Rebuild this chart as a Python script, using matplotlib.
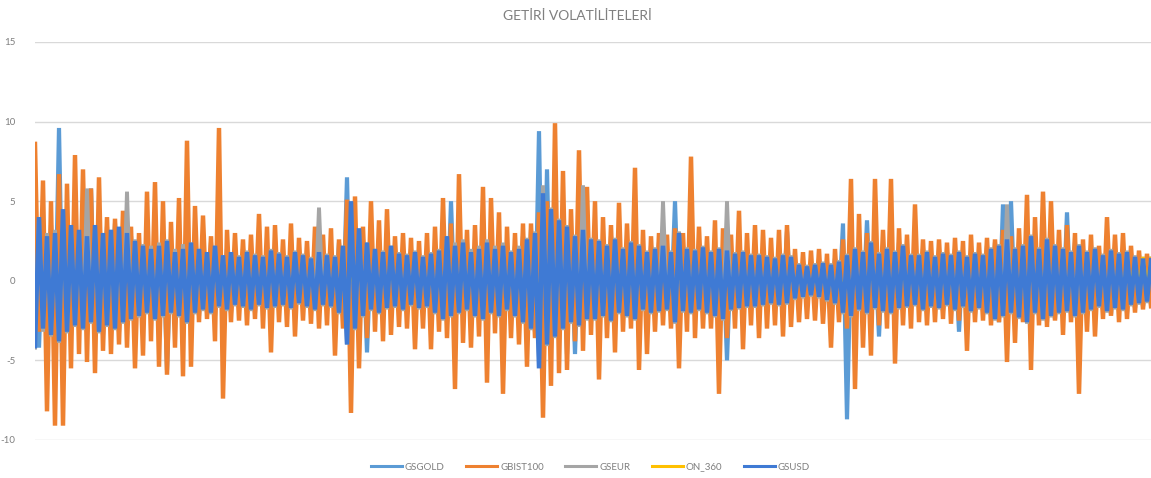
import numpy as np
import matplotlib
matplotlib.use("Agg")
import matplotlib.pyplot as plt

# returns, one (high, low) pair per ~8px column
gsgold_hi = [4.2, 3.0, 3.5, 9.6, 3.8, 3.4, 3.0, 5.8, 3.2, 3.4,
             3.6, 3.2, 2.8, 2.4, 2.2, 2.6, 2.8, 2.0, 2.4, 2.6,
             2.2, 2.0, 2.4, 1.8, 2.0, 1.7, 2.0, 1.8, 1.7, 2.1,
             1.9, 1.7, 2.0, 1.8, 1.6, 2.0, 1.8, 1.7, 2.4, 6.5,
             3.6, 2.6, 2.2, 2.0, 2.4, 1.9, 1.8, 2.0, 1.7, 1.9,
             2.1, 3.0, 5.0, 2.6, 2.0, 2.2, 2.6, 2.2, 2.4, 2.0,
             2.2, 2.8, 3.2, 9.4, 7.0, 4.0, 3.6, 3.0, 3.4, 2.8,
             2.7, 2.4, 2.8, 2.2, 2.6, 2.4, 2.0, 2.2, 2.4, 2.0,
             5.0, 2.2, 2.1, 2.3, 2.0, 2.2, 2.1, 1.9, 2.0, 1.8,
             1.8, 1.7, 1.6, 1.8, 3.1, 1.2, 1.1, 1.2, 1.3, 1.2,
             1.4, 3.6, 2.2, 2.0, 3.8, 1.9, 2.2, 2.0, 2.4, 1.8,
             1.8, 2.0, 1.7, 1.9, 1.8, 2.0, 1.7, 1.9, 1.8, 2.2,
             2.4, 4.8, 5.0, 2.4, 3.0, 2.2, 2.8, 2.4, 2.2, 4.3,
             2.4, 2.0, 2.2, 1.8, 2.1, 1.9, 2.0, 1.7, 1.6, 1.5]
gsgold_lo = [-4.2, -3.2, -3.6, -4.0, -3.4, -3.0, -3.2, -2.8, -3.4, -3.0,
             -3.2, -2.8, -2.6, -2.4, -2.2, -2.6, -5.6, -2.2, -2.4, -2.8,
             -2.2, -2.0, -2.2, -1.8, -2.0, -1.7, -1.8, -2.0, -1.7, -1.9,
             -1.8, -1.7, -1.9, -1.6, -1.8, -2.0, -1.7, -1.8, -2.2, -4.2,
             -3.2, -4.5, -2.0, -2.2, -1.9, -1.8, -2.0, -1.7, -1.9, -1.8,
             -2.2, -2.6, -2.4, -2.2, -2.0, -2.4, -2.6, -2.2, -2.4, -2.0,
             -2.4, -2.8, -3.2, -5.8, -4.2, -3.7, -4.6, -4.6, -3.0, -2.6,
             -2.6, -2.4, -2.7, -2.2, -2.4, -2.6, -2.0, -2.2, -2.1, -2.0,
             -2.8, -2.1, -2.2, -2.0, -2.2, -2.4, -5.0, -2.0, -1.9, -1.8,
             -1.8, -1.7, -1.6, -1.7, -1.6, -1.3, -1.2, -1.1, -1.2, -1.4,
             -1.6, -8.7, -2.4, -2.0, -2.2, -3.5, -2.1, -2.2, -1.9, -1.8,
             -1.7, -2.0, -1.8, -1.9, -1.7, -3.2, -1.8, -2.1, -1.9, -2.2,
             -2.6, -2.4, -2.2, -2.5, -2.8, -2.2, -2.6, -2.4, -2.2, -2.1,
             -2.4, -2.2, -2.0, -1.8, -2.1, -1.9, -2.0, -1.7, -1.6, -1.5]

gbist_hi = [8.6, 6.3, 5.0, 6.7, 6.1, 7.9, 7.0, 5.8, 6.5, 4.0,
            3.9, 4.4, 3.4, 3.0, 5.6, 6.2, 5.0, 3.7, 5.2, 8.8,
            4.7, 4.1, 2.8, 9.6, 3.2, 3.0, 2.6, 2.9, 4.2, 3.4,
            3.5, 2.6, 3.6, 2.7, 2.5, 3.4, 2.9, 3.3, 2.6, 5.1,
            5.3, 3.4, 5.0, 3.8, 4.5, 2.8, 3.0, 2.7, 2.5, 3.0,
            3.4, 5.2, 3.6, 6.7, 3.2, 3.5, 5.9, 5.2, 4.3, 3.4,
            3.0, 3.6, 3.6, 4.3, 5.0, 9.9, 6.9, 4.5, 8.2, 5.9,
            5.0, 4.0, 3.5, 4.9, 3.6, 7.1, 3.2, 2.8, 3.0, 2.9,
            3.3, 3.0, 7.8, 3.4, 2.8, 3.8, 3.3, 2.9, 4.4, 3.0,
            3.5, 3.2, 2.7, 3.2, 3.5, 2.0, 1.8, 1.9, 2.0, 1.7,
            2.0, 2.6, 6.4, 4.2, 3.0, 6.4, 3.2, 6.4, 3.3, 2.9,
            4.8, 2.6, 2.5, 2.6, 2.4, 2.7, 2.5, 2.9, 2.4, 2.7,
            2.6, 3.2, 2.8, 3.3, 5.4, 4.0, 5.6, 5.0, 3.2, 3.5,
            3.0, 2.6, 2.9, 2.2, 4.0, 2.9, 3.0, 2.2, 1.9, 1.7]
gbist_lo = [-3.2, -8.2, -9.1, -9.1, -5.5, -4.6, -5.1, -5.8, -4.4, -4.6,
            -4.0, -4.2, -5.5, -4.7, -3.8, -5.4, -5.9, -4.2, -6.0, -5.4,
            -2.6, -2.4, -3.8, -7.4, -2.6, -2.5, -2.8, -2.4, -3.0, -4.5,
            -2.6, -2.9, -3.5, -2.5, -2.7, -3.0, -2.8, -4.7, -3.0, -8.3,
            -5.5, -3.6, -3.2, -3.8, -3.4, -2.9, -3.0, -4.3, -3.0, -4.3,
            -3.2, -3.6, -6.8, -3.9, -4.2, -3.5, -6.4, -3.3, -7.1, -3.6,
            -4.0, -5.4, -3.6, -8.6, -6.6, -5.8, -5.6, -3.8, -4.4, -3.4,
            -6.2, -3.6, -4.5, -3.2, -3.0, -5.6, -4.6, -3.2, -2.8, -3.0,
            -5.5, -3.2, -3.6, -3.0, -3.0, -7.1, -3.6, -3.0, -4.3, -2.8,
            -3.6, -3.0, -2.8, -3.5, -2.9, -2.6, -2.4, -2.5, -2.7, -4.2,
            -2.6, -3.0, -6.8, -4.2, -4.7, -2.8, -3.0, -5.2, -2.8, -3.0,
            -2.6, -2.8, -2.6, -2.4, -2.7, -2.5, -4.4, -2.6, -2.5, -2.8,
            -2.6, -5.1, -3.9, -2.6, -5.6, -2.8, -2.9, -2.5, -3.4, -2.6,
            -7.1, -3.2, -3.5, -2.4, -2.2, -2.6, -2.4, -2.0, -1.8, -1.6]

gseur_hi = [4.0, 3.0, 3.2, 3.8, 3.4, 3.0, 5.8, 3.4, 3.0, 3.2,
            3.0, 5.6, 2.6, 2.3, 2.2, 2.4, 2.6, 2.0, 2.3, 2.4,
            2.0, 1.8, 2.2, 1.6, 1.8, 1.6, 1.9, 1.7, 1.6, 2.0,
            1.8, 1.6, 1.9, 1.7, 1.5, 4.6, 1.7, 1.6, 2.2, 4.5,
            3.2, 2.4, 2.0, 1.9, 2.2, 1.8, 1.7, 1.9, 1.6, 1.8,
            2.0, 2.8, 2.4, 2.6, 2.0, 2.2, 2.6, 2.2, 2.4, 1.9,
            2.2, 2.7, 3.1, 6.0, 4.6, 3.9, 3.5, 2.9, 6.0, 2.7,
            2.6, 2.3, 2.7, 2.1, 2.5, 2.3, 1.9, 2.1, 5.0, 1.9,
            3.1, 2.1, 2.0, 2.2, 1.9, 2.1, 5.0, 1.8, 1.9, 1.7,
            1.7, 1.6, 1.5, 1.7, 1.6, 1.1, 1.0, 1.1, 1.2, 1.1,
            1.3, 1.7, 2.1, 1.9, 2.5, 1.8, 2.1, 1.9, 2.3, 1.7,
            1.7, 1.9, 1.6, 1.8, 1.7, 1.9, 1.6, 1.8, 1.7, 2.1,
            2.3, 4.8, 2.1, 2.3, 2.9, 2.1, 2.7, 2.3, 2.1, 1.9,
            2.3, 1.9, 2.1, 1.7, 2.0, 1.8, 1.9, 1.6, 1.5, 1.4]
gseur_lo = [-4.2, -3.2, -3.5, -3.9, -3.3, -2.9, -3.1, -2.7, -3.3, -2.9,
            -3.1, -2.7, -2.5, -2.3, -2.1, -2.5, -2.3, -2.1, -2.3, -2.7,
            -2.1, -1.9, -2.1, -1.7, -1.9, -1.6, -1.7, -1.9, -1.6, -1.8,
            -1.7, -1.6, -1.8, -1.5, -1.7, -1.9, -1.6, -1.7, -2.1, -4.0,
            -3.1, -2.3, -1.9, -2.1, -1.8, -1.7, -1.9, -1.6, -1.8, -1.7,
            -2.1, -2.5, -2.3, -2.1, -1.9, -2.3, -2.5, -2.1, -2.3, -1.9,
            -2.3, -2.7, -3.1, -5.0, -4.1, -3.6, -3.1, -2.7, -2.9, -2.5,
            -2.5, -2.3, -2.6, -2.1, -2.3, -2.5, -1.9, -2.1, -2.0, -1.9,
            -2.7, -2.0, -2.1, -1.9, -2.1, -2.3, -2.5, -1.9, -1.8, -1.7,
            -1.7, -1.6, -1.5, -1.6, -1.5, -1.2, -1.1, -1.0, -1.1, -1.3,
            -1.5, -2.1, -2.3, -1.9, -2.1, -1.8, -2.0, -2.1, -1.8, -1.7,
            -1.6, -1.9, -1.7, -1.8, -1.6, -1.9, -1.7, -2.0, -1.8, -2.1,
            -2.5, -2.3, -2.1, -2.4, -2.7, -2.1, -2.5, -2.3, -2.1, -2.0,
            -2.3, -2.1, -1.9, -1.7, -2.0, -1.8, -1.9, -1.6, -1.5, -1.4]

on360_hi = [0.4, 0.3, 0.3, 0.4, 0.3, 0.3, 0.3, 0.2, 0.3, 0.3,
            0.3, 0.2, 0.2, 0.3, 0.2, 0.2, 0.3, 0.2, 0.2, 0.2,
            0.2, 0.2, 0.2, 0.2, 0.2, 0.2, 0.2, 0.2, 0.2, 0.2,
            0.2, 0.2, 0.2, 0.2, 0.2, 0.2, 0.2, 0.2, 0.2, 0.3,
            0.3, 0.2, 0.2, 0.2, 0.2, 0.2, 0.2, 0.2, 0.2, 0.2,
            0.2, 0.2, 0.2, 0.2, 0.2, 0.2, 0.2, 0.2, 0.2, 0.2,
            0.2, 0.2, 0.3, 0.4, 0.3, 0.3, 0.3, 0.2, 0.2, 0.2,
            0.2, 0.2, 0.2, 0.2, 0.2, 0.2, 0.2, 0.2, 0.2, 0.2,
            0.2, 0.2, 0.2, 0.2, 0.2, 0.2, 0.2, 0.2, 0.2, 0.2,
            0.2, 0.2, 0.2, 0.2, 0.2, 0.1, 0.1, 0.1, 0.1, 0.1,
            0.2, 0.2, 0.3, 0.2, 0.2, 0.2, 0.2, 0.2, 0.2, 0.2,
            0.2, 0.2, 0.2, 0.2, 0.2, 0.2, 0.2, 0.2, 0.2, 0.2,
            0.3, 0.3, 0.3, 0.3, 0.3, 0.3, 0.3, 0.3, 0.3, 0.3,
            0.3, 0.3, 0.4, 0.4, 0.5, 0.6, 0.9, 1.2, 1.5, 1.4]
on360_lo = [-0.4, -0.3, -0.3, -0.4, -0.3, -0.3, -0.3, -0.2, -0.3, -0.3,
            -0.3, -0.2, -0.2, -0.3, -0.2, -0.2, -0.3, -0.2, -0.2, -0.2,
            -0.2, -0.2, -0.2, -0.2, -0.2, -0.2, -0.2, -0.2, -0.2, -0.2,
            -0.2, -0.2, -0.2, -0.2, -0.2, -0.2, -0.2, -0.2, -0.2, -0.3,
            -0.3, -0.2, -0.2, -0.2, -0.2, -0.2, -0.2, -0.2, -0.2, -0.2,
            -0.2, -0.2, -0.2, -0.2, -0.2, -0.2, -0.2, -0.2, -0.2, -0.2,
            -0.2, -0.2, -0.3, -0.4, -0.3, -0.3, -0.3, -0.2, -0.2, -0.2,
            -0.2, -0.2, -0.2, -0.2, -0.2, -0.2, -0.2, -0.2, -0.2, -0.2,
            -0.2, -0.2, -0.2, -0.2, -0.2, -0.2, -0.2, -0.2, -0.2, -0.2,
            -0.2, -0.2, -0.2, -0.2, -0.2, -0.1, -0.1, -0.1, -0.1, -0.1,
            -0.2, -0.2, -0.3, -0.2, -0.2, -0.2, -0.2, -0.2, -0.2, -0.2,
            -0.2, -0.2, -0.2, -0.2, -0.2, -0.2, -0.2, -0.2, -0.2, -0.2,
            -0.3, -0.3, -0.3, -0.3, -0.3, -0.3, -0.3, -0.3, -0.3, -0.3,
            -0.3, -0.3, -0.3, -0.3, -0.3, -0.3, -0.3, -0.3, -0.3, -0.3]

gsusd_hi = [4.0, 2.8, 3.0, 4.5, 3.5, 3.2, 2.8, 3.5, 3.0, 3.2,
            3.4, 3.0, 2.5, 2.2, 2.0, 2.2, 2.5, 1.8, 2.0, 2.4,
            2.0, 1.8, 2.2, 1.6, 1.8, 1.5, 1.8, 1.6, 1.5, 1.9,
            1.7, 1.5, 1.8, 1.6, 1.4, 1.8, 1.6, 1.5, 2.2, 5.0,
            3.3, 2.4, 2.0, 1.8, 2.2, 1.7, 1.6, 1.8, 1.5, 1.7,
            1.9, 2.8, 2.2, 2.4, 1.8, 2.0, 2.4, 2.0, 2.2, 1.8,
            2.0, 2.6, 3.0, 5.5, 4.5, 3.8, 3.4, 2.8, 3.2, 2.6,
            2.5, 2.2, 2.6, 2.0, 2.4, 2.2, 1.8, 2.0, 2.2, 1.8,
            3.0, 2.0, 1.9, 2.1, 1.8, 2.0, 1.9, 1.7, 1.8, 1.6,
            1.6, 1.5, 1.4, 1.6, 1.5, 1.0, 0.9, 1.0, 1.1, 1.0,
            1.2, 1.6, 2.0, 1.8, 2.4, 1.7, 2.0, 1.8, 2.2, 1.6,
            1.6, 1.8, 1.5, 1.7, 1.6, 1.8, 1.5, 1.7, 1.6, 2.0,
            2.2, 2.6, 2.0, 2.2, 2.8, 2.0, 2.6, 2.2, 2.0, 1.8,
            2.2, 1.8, 2.0, 1.6, 1.9, 1.7, 1.8, 1.5, 1.4, 1.3]
gsusd_lo = [-4.1, -3.0, -3.4, -3.8, -3.2, -2.8, -3.0, -2.6, -3.2, -2.8,
            -3.0, -2.6, -2.4, -2.2, -2.0, -2.4, -2.2, -2.0, -2.2, -2.6,
            -2.0, -1.8, -2.0, -1.6, -1.8, -1.5, -1.6, -1.8, -1.5, -1.7,
            -1.6, -1.5, -1.7, -1.4, -1.6, -1.8, -1.5, -1.6, -2.0, -4.0,
            -3.0, -2.2, -1.8, -2.0, -1.7, -1.6, -1.8, -1.5, -1.7, -1.6,
            -2.0, -2.4, -2.2, -2.0, -1.8, -2.2, -2.4, -2.0, -2.2, -1.8,
            -2.2, -2.6, -3.0, -5.5, -4.0, -3.5, -3.0, -2.6, -2.8, -2.4,
            -2.4, -2.2, -2.5, -2.0, -2.2, -2.4, -1.8, -2.0, -1.9, -1.8,
            -2.6, -1.9, -2.0, -1.8, -2.0, -2.2, -2.4, -1.8, -1.7, -1.6,
            -1.6, -1.5, -1.4, -1.5, -1.4, -1.1, -1.0, -0.9, -1.0, -1.2,
            -1.4, -2.0, -2.2, -1.8, -2.0, -1.7, -1.9, -2.0, -1.7, -1.6,
            -1.5, -1.8, -1.6, -1.7, -1.5, -1.8, -1.6, -1.9, -1.7, -2.0,
            -2.4, -2.2, -2.0, -2.3, -2.6, -2.0, -2.4, -2.2, -2.0, -1.9,
            -2.2, -2.0, -1.8, -1.6, -1.9, -1.7, -1.8, -1.5, -1.4, -1.3]

# (name, highs, lows, colour, line width, high first?)
series = [
    ("GSGOLD", gsgold_hi, gsgold_lo, "#5B9BD5", 3.0, True),
    ("GBIST100", gbist_hi, gbist_lo, "#EE8130", 3.2, True),
    ("GSEUR", gseur_hi, gseur_lo, "#A5A5A5", 2.8, False),
    ("ON_360", on360_hi, on360_lo, "#FFC000", 2.4, False),
    ("GSUSD", gsusd_hi, gsusd_lo, "#3F7AD4", 3.2, False),
]

plt.rcParams['font.family'] = ['Lato', 'DejaVu Sans']

fig = plt.figure(figsize=(11.51, 4.78), dpi=100)
ax = fig.add_axes([35 / 1151, 1 - 440 / 478, 1 - 35 / 1151, 398 / 478])

for name, hi, lo, col, w, hi_first in series:
    pair = [hi, lo] if hi_first else [lo, hi]
    vals = np.column_stack(pair).ravel()
    ax.plot(np.arange(len(vals)), vals, color=col, lw=w, label=name,
            solid_joinstyle='miter')

ax.set_xlim(0, 2 * len(gbist_hi) - 1)
ax.set_ylim(-10, 15)
ax.set_yticks([-10, -5, 0, 5, 10, 15])
ax.set_yticklabels(['-10', '-5', '0', '5', '10', '15'])
ax.yaxis.grid(True, color='#D9D9D9', lw=1)
ax.set_axisbelow(True)
ax.set_xticks([])
for s in ax.spines.values():
    s.set_visible(False)
ax.tick_params(axis='y', length=0, labelsize=7, colors='#7F7F7F', pad=14)

fig.text(0.502, 0.967, "GETİRİ VOLATİLİTELERİ", ha='center', va='center',
         fontsize=10, color='#7F7F7F')
leg = fig.legend(loc='center', bbox_to_anchor=(0.513, 0.023), ncol=5, frameon=False,
                 fontsize=7, labelcolor='#7F7F7F', handlelength=3.2, columnspacing=2.2,
                 handletextpad=0.3)
for h in leg.get_lines():
    h.set_linewidth(2.2)

fig.savefig("out.png", dpi=100)
